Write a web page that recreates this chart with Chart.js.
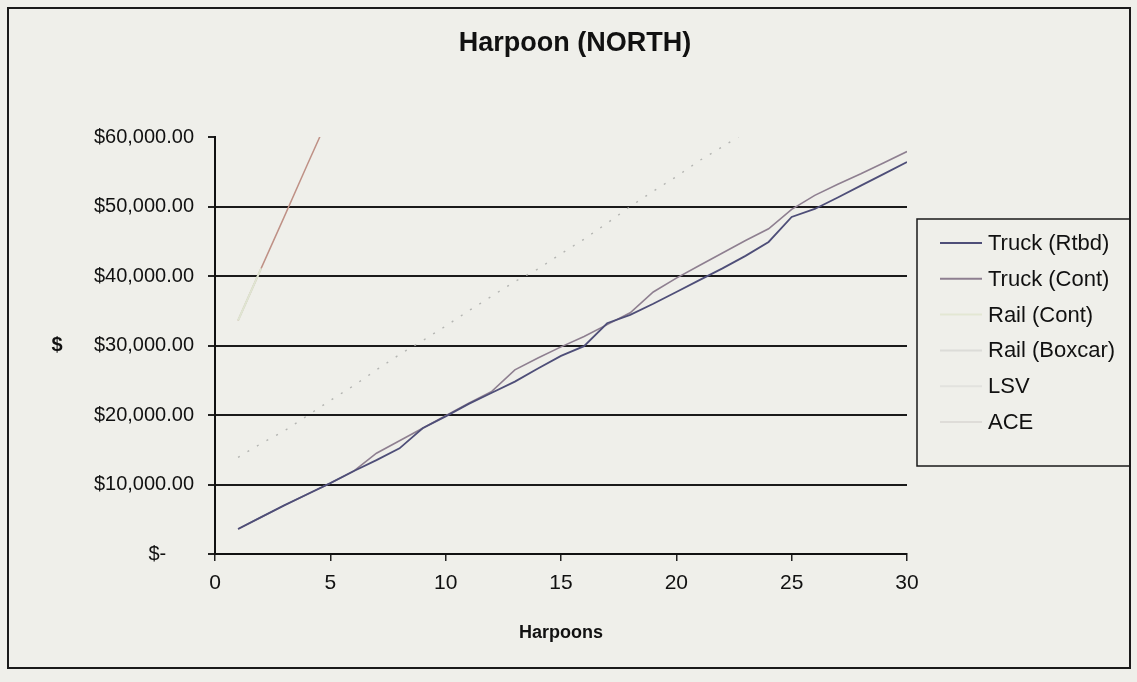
<!DOCTYPE html>
<html>
<head>
<meta charset="utf-8">
<script src="https://cdn.jsdelivr.net/npm/chart.js@4.4.1/dist/chart.umd.min.js"></script>
<style>
  html, body { margin: 0; padding: 0; background: #efefea; }
</style>
</head>
<body>
<canvas id="myChart" width="1137" height="682"></canvas>
<script>
// values
var harpoons = [1, 2, 3, 4, 5, 6, 7, 8, 9, 10, 11, 12, 13, 14, 15,
                16, 17, 18, 19, 20, 21, 22, 23, 24, 25, 26, 27, 28, 29, 30];
var truckRtbd = [3600, 5300, 7000, 8600, 10200, 11900, 13500, 15200, 18100, 19800,
                 21600, 23200, 24800, 26700, 28500, 29900, 33200, 34400, 36000, 37700,
                 39400, 41100, 42900, 44900, 48500, 49650, 51300, 53000, 54700, 56400];
var truckCont = [3600, 5300, 7000, 8600, 10200, 11900, 14500, 16300, 18100, 19900,
                 21700, 23400, 26500, 28200, 29800, 31300, 33000, 34700, 37700, 39700,
                 41500, 43300, 45100, 46800, 49600, 51600, 53200, 54700, 56300, 57900];
var railCont = [33600, 41100];
var railBoxcar = [13900, 15900, 17700, 19900, 22100, 24200, 26500, 28700, 30700, 32800,
                  35000, 37100, 39200, 41000, 43200, 45300, 47600, 50000, 52200, 54300,
                  56600, 58600, 60700];
var lsv = [];
var ace = [33600, 41100, 48500, 56000, 63400];

var yTicks = [0, 10000, 20000, 30000, 40000, 50000, 60000];
var xTicks = [0, 5, 10, 15, 20, 25, 30];

function toPoints(vals) {
    var pts = [];
    for (var i = 0; i < vals.length; i++) {
        pts.push({x: harpoons[i], y: vals[i]});
    }
    return pts;
}

var FONT = "'Liberation Sans', Arial, sans-serif";

var frame = {
    id: 'frame',
    beforeDraw: function(chart) {
        var ctx = chart.ctx;
        ctx.save();
        ctx.fillStyle = '#efefea';
        ctx.fillRect(0, 0, chart.width, chart.height);
        ctx.restore();
    },
    afterDraw: function(chart) {
        var ctx = chart.ctx;
        var area = chart.chartArea;
        ctx.save();
        // outer border
        ctx.strokeStyle = '#1a1a1a';
        ctx.lineWidth = 2;
        ctx.strokeRect(8, 8, 1122, 660);

        // title
        ctx.fillStyle = '#111';
        ctx.textAlign = 'center';
        ctx.textBaseline = 'middle';
        ctx.font = 'bold 27px ' + FONT;
        ctx.fillText('Harpoon (NORTH)', 575, 44);

        // axis titles
        ctx.font = 'bold 18px ' + FONT;
        ctx.fillText('Harpoons', (area.left + area.right) / 2, 633);
        ctx.font = 'bold 20px ' + FONT;
        ctx.fillText('$', 57, (area.top + area.bottom) / 2);

        // legend
        ctx.lineWidth = 1.5;
        ctx.strokeStyle = '#1a1a1a';
        ctx.strokeRect(917, 219, 213, 247);
        ctx.font = '22px ' + FONT;
        ctx.textAlign = 'left';
        var ds = chart.data.datasets;
        for (var i = 0; i < ds.length; i++) {
            var y = 243 + i * 35.8;
            ctx.strokeStyle = ds[i].legendColor || ds[i].borderColor;
            ctx.lineWidth = 2;
            ctx.beginPath();
            ctx.moveTo(940, y);
            ctx.lineTo(982, y);
            ctx.stroke();
            ctx.fillStyle = '#111';
            ctx.fillText(ds[i].label, 988, y + 1);
        }
        ctx.restore();
    }
};

var canvas = document.getElementById("myChart");
var ctx = canvas.getContext("2d");

var myChart = new Chart(ctx, {
    type: 'line',
    data: {
        datasets: [
            {label: 'Truck (Rtbd)', data: toPoints(truckRtbd), borderColor: '#4e4e78', borderWidth: 1.8},
            {label: 'Truck (Cont)', data: toPoints(truckCont), borderColor: '#8e7f90', borderWidth: 1.6},
            {label: 'Rail (Cont)', data: toPoints(railCont), borderColor: '#dfe5d2', borderWidth: 2, legendColor: '#e3e7d3'},
            {label: 'Rail (Boxcar)', data: toPoints(railBoxcar), borderColor: '#b4b5b2', borderWidth: 1.4,
             borderDash: [2, 9], legendColor: '#dcdcd8'},
            {label: 'LSV', data: toPoints(lsv), borderColor: '#e2e2de', borderWidth: 2},
            {label: 'ACE', data: toPoints(ace), borderColor: '#bf9186', borderWidth: 1.5, legendColor: '#dedcd8'}
        ]
    },
    options: {
        responsive: false,
        animation: false,
        layout: {padding: {left: 8, top: 137, right: 230, bottom: 0}},
        elements: {
            point: {radius: 0, hoverRadius: 0},
            line: {tension: 0, fill: false}
        },
        plugins: {
            legend: {display: false},
            title: {display: false},
            tooltip: {enabled: false}
        },
        scales: {
            x: {
                type: 'linear',
                min: 0,
                max: 30,
                afterBuildTicks: function(scale) {
                    scale.ticks = xTicks.map(function(v) { return {value: v}; });
                },
                afterFit: function(scale) { scale.height = 128; },
                ticks: {color: '#111', font: {family: FONT, size: 21}, padding: 10},
                grid: {drawOnChartArea: false, drawTicks: true, tickLength: 7, color: '#222', lineWidth: 1.5},
                border: {display: true, color: '#111', width: 2}
            },
            y: {
                min: 0,
                max: 60000,
                afterBuildTicks: function(scale) {
                    scale.ticks = yTicks.map(function(v) { return {value: v}; });
                },
                afterFit: function(scale) { scale.width = 207; },
                ticks: {
                    color: '#111',
                    font: {family: FONT, size: 20},
                    padding: 14,
                    callback: function(v) {
                        if (v === 0) return '$-     ';
                        return '$' + v.toLocaleString('en-US', {minimumFractionDigits: 2, maximumFractionDigits: 2});
                    }
                },
                grid: {
                    color: function(c) { return c.tick && c.tick.value === 60000 ? 'rgba(0,0,0,0)' : '#1a1a1a'; },
                    tickColor: '#222',
                    lineWidth: 2,
                    tickLength: 7
                },
                border: {display: true, color: '#111', width: 2}
            }
        }
    },
    plugins: [frame]
});
</script>
</body>
</html>
